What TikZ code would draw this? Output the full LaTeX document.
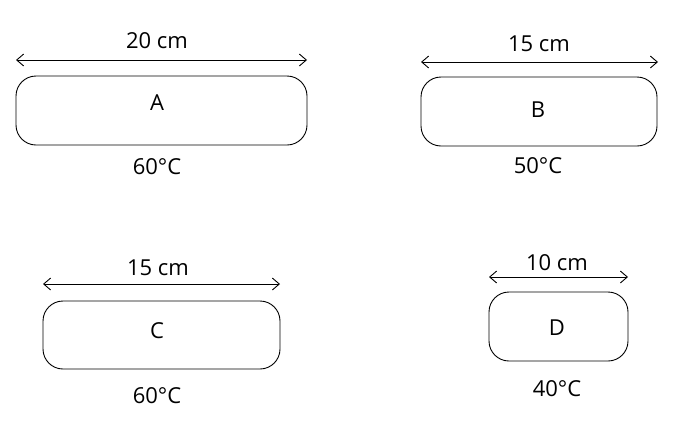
\documentclass[tikz,border=0pt]{standalone}
\usepackage{fontspec}
\setmainfont{Open Sans}
\usetikzlibrary{arrows.meta}
\tikzset{
    rod/.style={draw, rounded corners=20pt, inner sep=0pt, line width=0.9pt},
    span/.style={{Straight Barb[length=7pt,width=12pt]}-{Straight Barb[length=7pt,width=12pt]}, line width=0.9pt},
    lbl/.style={font=\fontsize{22}{26}\selectfont, inner sep=0pt}
}
\begin{document}
\begin{tikzpicture}[x=1pt, y=-1pt]
    \useasboundingbox (0, 0) rectangle (674, 437);
    % rod A
    \node[rod, minimum width=291pt, minimum height=69pt] (rodA) at (161.5, 110.5) {};
    \node[lbl] (nameA) at (157, 103) {A};
    \coordinate (lA) at (16, 60);
    \coordinate (rA) at (307, 60);
    \draw[span] (lA) -- (rA);
    \node[lbl] (lenA) at (157, 41) {20 cm};
    \node[lbl] (tempA) at (157, 167) {60°C};
    % rod B
    \node[rod, minimum width=236pt, minimum height=69pt] (rodB) at (539, 111.5) {};
    \node[lbl] (nameB) at (538, 110) {B};
    \coordinate (lB) at (421, 62);
    \coordinate (rB) at (658, 62);
    \draw[span] (lB) -- (rB);
    \node[lbl] (lenB) at (539, 44) {15 cm};
    \node[lbl] (tempB) at (538, 166) {50°C};
    % rod C
    \node[rod, minimum width=237pt, minimum height=68pt] (rodC) at (161.5, 335) {};
    \node[lbl] (nameC) at (157, 331) {C};
    \coordinate (lC) at (43, 284);
    \coordinate (rC) at (280, 284);
    \draw[span] (lC) -- (rC);
    \node[lbl] (lenC) at (158, 268) {15 cm};
    \node[lbl] (tempC) at (157, 396) {60°C};
    % rod D
    \node[rod, minimum width=139pt, minimum height=69pt] (rodD) at (558.5, 326.5) {};
    \node[lbl] (nameD) at (557, 328) {D};
    \coordinate (lD) at (489, 277);
    \coordinate (rD) at (628, 277);
    \draw[span] (lD) -- (rD);
    \node[lbl] (lenD) at (557, 263) {10 cm};
    \node[lbl] (tempD) at (557, 389) {40°C};
\end{tikzpicture}
\end{document}
